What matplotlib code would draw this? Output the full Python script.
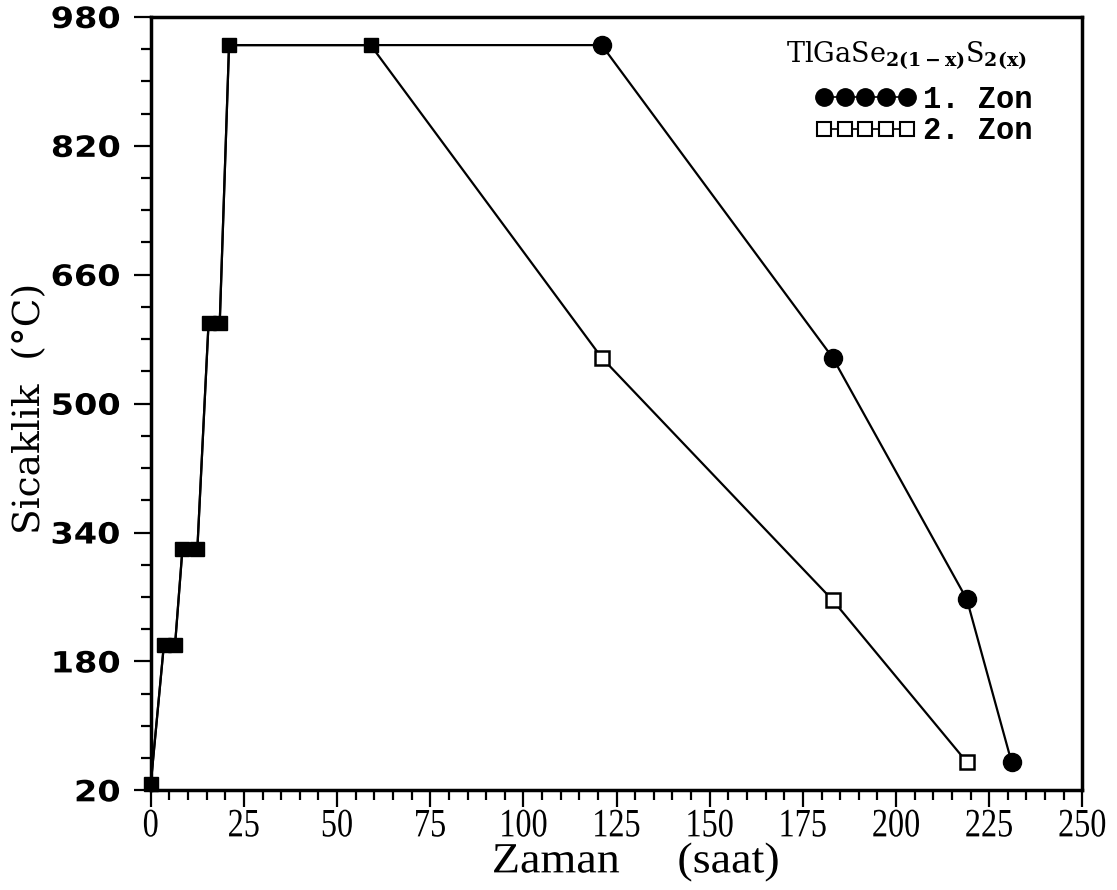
import matplotlib
matplotlib.use("Agg")
import matplotlib.pyplot as plt
import numpy as np
from matplotlib.lines import Line2D
from matplotlib.patheffects import AbstractPathEffect
from matplotlib.transforms import Affine2D

# shared heating ramp (both zones), then the two cooling branches
ramp_hours = [0, 3.5, 6.5, 8.5, 12.5, 15.5, 18.5, 21, 59]
ramp_temp = [28, 200, 200, 320, 320, 600, 600, 945, 945]
zone1_hours = [121, 183, 219, 231]
zone1_temp = [945, 557, 257, 55]
zone2_hours = [121, 183, 219]
zone2_temp = [557, 256, 55]

x_ticks = list(range(0, 251, 25))
y_ticks = list(range(20, 981, 160))


class Stretch(AbstractPathEffect):
    """Scale text horizontally around its left, centre or right edge."""

    def __init__(self, sx, anchor="center"):
        super().__init__()
        self.sx = sx
        self.anchor = anchor

    def draw_path(self, renderer, gc, tpath, affine, rgbFace=None):
        xs = tpath.vertices[:, 0]
        if len(xs) == 0:
            return
        c = {"left": xs.min(), "right": xs.max()}.get(self.anchor, (xs.min() + xs.max()) / 2)
        tr = Affine2D().translate(-c, 0).scale(self.sx, 1).translate(c, 0) + affine
        renderer.draw_path(gc, tpath, tr, rgbFace)


plt.rcParams["mathtext.fontset"] = "dejavuserif"

fig = plt.figure(figsize=(11.17, 8.9), dpi=100)
ax = fig.add_axes([0.135, 0.112, 0.834, 0.869])

lw = 1.6
ax.plot(ramp_hours + zone1_hours, ramp_temp + zone1_temp, color="black", lw=lw, zorder=2)
ax.plot(ramp_hours + zone2_hours, ramp_temp + zone2_temp, color="black", lw=lw, zorder=2)
ax.plot(ramp_hours, ramp_temp, ls="none", marker="s", ms=10.5, color="black", zorder=3, clip_on=False)
ax.plot(zone1_hours, zone1_temp, ls="none", marker="o", ms=13, color="black", zorder=3, clip_on=False)
ax.plot(zone2_hours, zone2_temp, ls="none", marker="s", ms=10.5, mfc="white", mec="black",
        mew=1.8, zorder=3, clip_on=False)

ax.set_xlim(0, 250)
ax.set_ylim(20, 980)
ax.set_xticks(x_ticks)
ax.set_xticks(np.arange(0, 251, 5), minor=True)
ax.set_yticks(y_ticks)
ax.set_yticks(np.arange(20, 981, 40), minor=True)
ax.tick_params(which="both", direction="out", width=1.6, top=False, right=False)
ax.tick_params(which="major", length=12)
ax.tick_params(which="minor", length=7)
for s in ax.spines.values():
    s.set_linewidth(2.5)

ax.set_xticklabels([str(v) for v in x_ticks], family="Liberation Serif", fontsize=29)
ax.set_yticklabels([str(v) for v in y_ticks], family="DejaVu Sans", fontweight="bold", fontsize=21)
for t in ax.get_xticklabels():
    t.set_path_effects([Stretch(0.8, "center")])
for t in ax.get_yticklabels():
    t.set_path_effects([Stretch(1.15, "right")])
ax.tick_params(axis="x", pad=1)
ax.tick_params(axis="y", pad=10)

xl = ax.set_xlabel("Zaman     (saat)", family="Liberation Serif", fontsize=31)
xl.set_path_effects([Stretch(1.07, "center")])
ax.xaxis.set_label_coords(0.52, -0.068)
yl = ax.set_ylabel("Sicaklik  (°C)", family="DejaVu Serif", fontsize=27)
yl.set_va("center")
ax.yaxis.set_label_coords(-0.130, 0.494)

handles = [
    Line2D([], [], color="black", lw=1.2, marker="o", ms=12.5),
    Line2D([], [], color="black", lw=1.2, marker="s", ms=9.5, mfc="white", mew=1.5),
]
leg = ax.legend(handles, ["1. Zon", "2. Zon"], loc="upper right", bbox_to_anchor=(0.947, 0.912),
                numpoints=5, handlelength=3.3, handletextpad=0.25, labelspacing=0.05, frameon=False,
                borderpad=0, borderaxespad=0,
                prop={"family": "Liberation Mono", "weight": "bold", "size": 22})
ax.text(0.811, 0.951, r"TlGaSe$_{\mathbf{2(1-x)}}$S$_{\mathbf{2(x)}}$", transform=ax.transAxes,
        ha="center", va="center", family="DejaVu Serif", fontsize=19.5)

fig.savefig("out.png", dpi=100)
